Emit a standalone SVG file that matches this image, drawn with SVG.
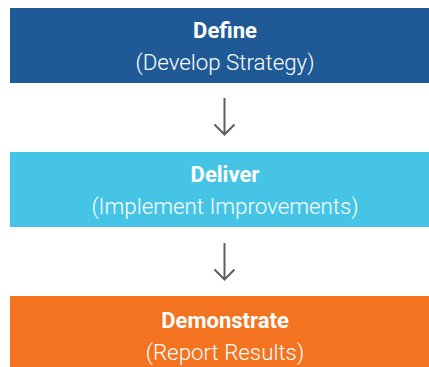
<svg xmlns="http://www.w3.org/2000/svg" width="429" height="367" viewBox="0 0 429 367">
<style>
.title{font-family:Roboto,"Liberation Sans",sans-serif;font-weight:700;font-size:22px;fill:#fff;text-anchor:middle}
.sub{font-family:Roboto,"Liberation Sans",sans-serif;font-weight:300;font-size:22.3px;fill:#fff;text-anchor:middle}
.arr{stroke:#5f5f5f;stroke-width:2;fill:none}
</style>
<rect width="429" height="367" fill="#fff"/>
<g id="define">
<rect x="10" y="8" width="430" height="75" fill="#1f5a96"/>
<text class="title" x="225" y="37.5">Define</text>
<text class="sub" x="225" y="70">(Develop Strategy)</text>
</g>
<g id="deliver">
<rect x="10" y="152" width="430" height="75" fill="#45c4e6"/>
<text class="title" x="225" y="182">Deliver</text>
<text class="sub" x="225" y="214">(Implement Improvements)</text>
</g>
<g id="demonstrate">
<rect x="10" y="296" width="430" height="75" fill="#f37321"/>
<text class="title" x="225" y="327.5">Demonstrate</text>
<text class="sub" x="225" y="359.5">(Report Results)</text>
</g>
<g id="connectors">
<path class="arr" d="M224.5 98 V135 M214.5 124.5 L224.5 134.5 L234.5 124.5"/>
<path class="arr" d="M224.5 243 V280 M214.5 269.5 L224.5 279.5 L234.5 269.5"/>
</g>
</svg>
